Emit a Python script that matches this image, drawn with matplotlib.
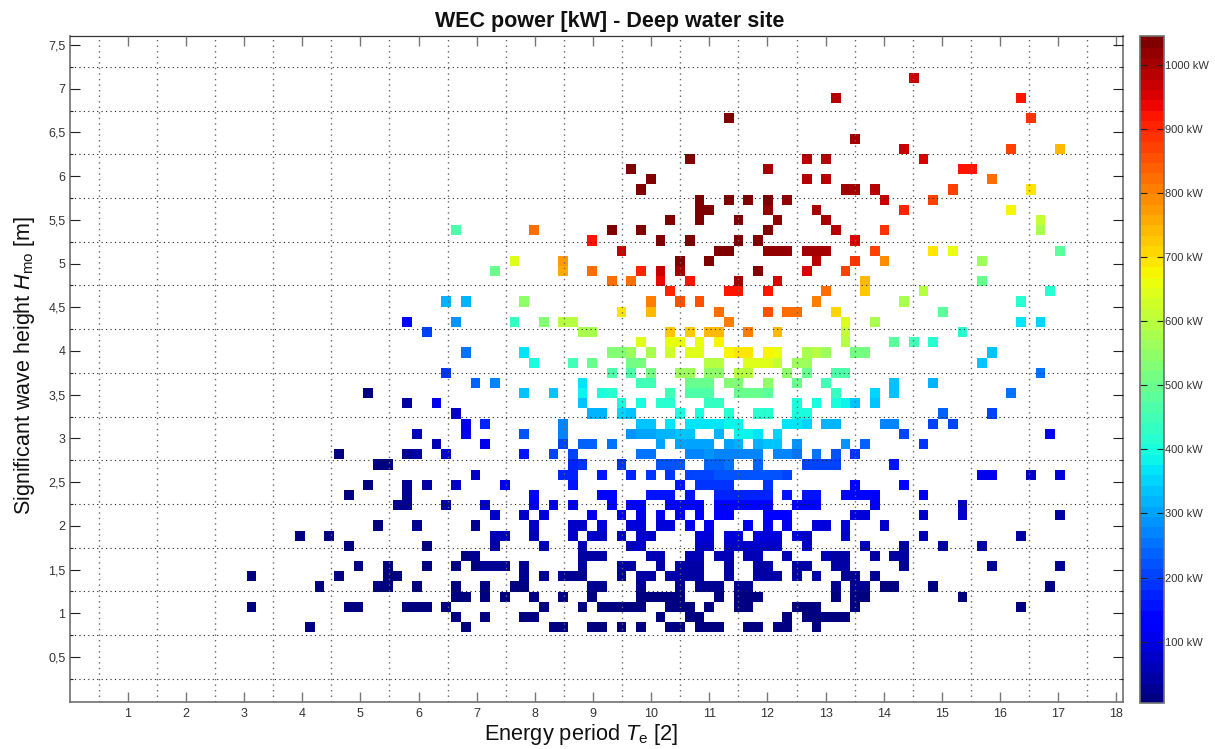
import numpy as np
import matplotlib
matplotlib.use("Agg")
import matplotlib.pyplot as plt
from matplotlib.ticker import FixedLocator, FixedFormatter, FuncFormatter

plt.rcParams['font.family'] = ['Liberation Sans', 'DejaVu Sans']
plt.rcParams['mathtext.fontset'] = 'custom'
plt.rcParams['mathtext.rm'] = 'Liberation Sans'
plt.rcParams['mathtext.it'] = 'Liberation Sans:italic'

# sea-state bins: energy period of bin 0 and bin width, wave height of bin 0 and bin width
te_first, te_width = 3.125, 0.16753
hs_first, hs_height = 0.8395, 0.11644

# WEC power [kW], one dict per wave-height bin: {period bin: power}
r00 = {6:3,22:6,31:8,32:8,35:8,36:8,38:9,40:9,43:9,44:9,46:10,47:10,48:10,51:10,52:10,54:10,55:10,58:9}
r01 = {21:7,24:8,28:9,29:10,42:12,45:12,46:12,55:12,57:12,58:12,59:12,60:11,61:11}
r02 = {0:3,10:6,11:6,16:7,17:7,18:8,20:9,30:12,34:13,36:13,37:14,38:14,39:14,40:14,43:15,44:15,45:15,47:16,50:16,51:16,56:15,57:14,58:14,62:13,79:7}
r03 = {21:11,22:11,24:12,26:13,29:14,32:16,35:17,40:18,41:18,42:18,43:19,44:19,48:20,50:20,51:20,52:20,60:17,62:16,63:16,73:11}
r04 = {7:6,13:11,14:11,17:12,21:16,24:17,27:19,28:20,35:23,36:23,40:25,44:27,46:27,47:27,48:28,50:28,51:28,60:24,62:23,63:23,65:20,66:20,70:17,82:12}
r05 = {0:2,9:4,14:6,15:7,28:30,30:32,32:33,33:33,34:34,38:36,40:38,41:38,43:39,44:40,45:40,46:41,49:42,52:42,53:41,54:40,56:40,58:38,61:35,62:34,64:32}
r06 = {11:5,14:8,18:12,21:18,23:20,24:22,25:24,26:25,28:37,34:41,38:45,39:46,42:47,44:49,45:50,46:50,49:52,52:52,53:51,56:49,57:48,60:44,61:43,67:33,76:25,83:22}
r07 = {22:20,23:22,34:50,35:51,36:52,41:56,42:57,45:60,46:60,48:61,49:62,51:62,52:62,55:59,59:54,60:53,61:52,64:46,66:43,67:42}
r08 = {10:8,18:18,25:40,30:58,34:64,39:69,40:70,46:75,47:76,49:78,50:78,51:78,52:78,53:77,54:77,57:72,63:60,67:53,71:46,75:42}
r09 = {5:8,8:9,25:60,26:61,29:66,33:73,35:76,36:77,38:80,40:83,41:84,46:89,47:90,49:92,50:92,52:91,53:91,54:90,56:87,57:86,61:76,69:60,79:42}
r10 = {13:15,17:25,23:35,29:75,33:82,34:85,36:88,39:93,40:96,42:99,43:100,45:104,47:106,51:108,53:106,55:103,58:97,59:95,61:88,65:79}
r11 = {25:80,28:86,30:93,35:104,38:110,40:113,42:116,44:118,46:121,48:123,49:124,53:122,54:120,55:119,62:100,63:98,69:82,73:72,83:52}
r12 = {15:22,16:25,20:50,24:75,29:110,31:115,33:118,37:128,39:133,40:135,43:140,44:143,45:145,46:146,48:150,49:150,50:150,51:150,52:150,53:148,56:140,57:138,58:136,64:110,73:80}
r13 = {10:12,16:32,29:125,36:145,37:148,41:158,42:160,43:162,45:165,48:168,49:170,50:170,51:170,52:170,53:168,55:163,57:160,58:158,61:145,62:140,63:136,64:132,69:105}
r14 = {12:18,16:35,18:45,21:75,26:115,33:155,44:165,46:190,47:190,48:195,49:195,53:190,62:150,67:125}
r15 = {23:75,32:170,33:170,36:165,39:175,41:190,43:190,45:210,46:215,47:215,48:225,49:230,50:230,51:230,52:230,53:225,54:225,55:215,75:105,76:105,80:85,83:90}
r16 = {13:15,14:20,33:175,34:190,38:190,42:225,43:225,44:225,47:245,48:245,49:255,52:245,57:210,58:210,59:200,60:200,66:155}
r17 = {9:5,16:28,17:42,20:70,28:165,31:215,33:200,40:260,41:260,45:265,46:275,47:285,48:265,49:265,50:275,51:275,52:275,54:265,55:265,56:255,58:250,60:225,62:185}
r18 = {19:62,24:115,32:205,34:235,35:245,37:255,42:300,44:300,45:310,46:310,47:310,49:310,50:325,52:325,53:335,54:335,56:295,61:285,63:245,69:190}
r19 = {17:65,22:115,28:225,32:275,39:295,40:300,41:300,42:315,43:325,44:335,45:340,48:315,50:385,51:380,52:375,54:350,67:210,82:110}
r20 = {22:110,24:170,32:275,40:330,41:330,43:370,45:365,46:365,47:370,48:375,49:385,50:385,55:370,56:370,57:350,59:320,60:320,65:280,66:265,70:215,72:210}
r21 = {21:80,35:320,36:320,38:360,39:340,44:405,46:395,49:420,52:420,53:415,56:395,57:395,71:235,76:200}
r22 = {16:50,19:110,34:335,38:395,40:395,42:415,43:415,47:430,48:430,56:405,58:395,60:395,61:385,62:345,64:330}
r23 = {12:10,28:330,31:345,34:380,36:400,37:420,43:445,45:470,46:470,47:470,50:500,51:500,52:500,53:490,60:430,64:350,66:345,78:255}
r24 = {23:245,25:275,34:375,40:450,41:450,45:505,46:505,47:505,49:540,50:540,53:545,56:500,59:450,66:345,70:320}
r25 = {20:195,37:465,39:465,41:515,44:560,45:560,47:545,48:545,50:600,51:600,55:555,57:495,60:465,61:460,81:250}
r26 = {29:395,33:450,35:495,39:515,40:515,47:590,48:590,51:650,52:640,53:640,54:615,56:565,57:565,75:330}
r27 = {22:260,28:375,37:530,38:540,39:560,41:585,43:625,45:650,46:650,49:675,50:695,51:695,53:680,54:665,57:585,58:590,59:570,62:515,63:515,76:330}
r28 = {40:640,43:670,44:670,46:670,48:680,61:590,66:490,68:445,70:420}
r29 = {18:212,34:585,35:585,43:730,45:735,47:745,48:745,51:805,54:745,61:620,73:420}
r30 = {16:125,21:290,27:430,30:530,32:590,33:590,49:810,61:650,64:585,79:375,81:350}
r31 = {38:700,41:750,48:830,53:855,55:830,56:830,60:710,71:490}
r32 = {20:320,22:325,28:555,41:810,44:850,46:855,58:810,67:585,79:420}
r33 = {43:905,49:920,50:920,53:915,59:830,63:725,69:590,82:420}
r34 = {37:830,39:830,42:935,45:930,50:1005,54:960,63:745,75:500}
r35 = {25:500,32:755,35:830,40:900,42:975,44:1005,52:1030,57:950,61:880}
r36 = {27:640,32:770,44:1040,47:1040,58:985,62:885,65:790,75:565}
r37 = {38:965,48:1030,49:1030,53:1015,54:1015,55:1015,57:1000,58:1000,59:1000,64:880,70:700,72:670,83:490}
r38 = {35:930,42:1040,45:1040,50:1040,52:1035,62:960}
r39 = {21:470,29:830,37:1035,40:1035,53:1030,60:985,65:895,81:580}
r40 = {43:1040,46:1035,50:1040,54:1025,59:1000,81:610}
r41 = {46:1035,47:1035,53:1025,58:1000,67:905,78:680}
r42 = {46:1035,49:1040,51:1040,53:1040,55:1025,65:970,70:880}
r43 = {40:1040,61:1000,62:1000,64:980,72:880,80:700}
r44 = {41:1040,57:985,59:985,76:830}
r45 = {39:1040,53:1000,73:920,74:920}
r46 = {45:1045,57:985,59:985,69:950}
r47 = {67:970,78:880,83:745}
r48 = {62:1000}
r50 = {49:1045,80:895}
r52 = {60:985,79:930}
r54 = {68:965}

power_rows = [r00,r01,r02,r03,r04,r05,r06,r07,r08,r09,r10,r11,r12,r13,r14,r15,r16,r17,r18,r19,
              r20,r21,r22,r23,r24,r25,r26,r27,r28,r29,r30,r31,r32,r33,r34,r35,r36,r37,r38,r39,
              r40,r41,r42,r43,r44,r45,r46,r47,r48,{},r50,{},r52,{},r54]

x_ticks = list(range(1, 19))
y_ticks = [0.5, 1, 1.5, 2, 2.5, 3, 3.5, 4, 4.5, 5, 5.5, 6, 6.5, 7, 7.5]
y_tick_labels = ['0,5', '1', '1,5', '2', '2,5', '3', '3,5', '4', '4,5', '5', '5,5', '6', '6,5', '7', '7,5']
cbar_ticks = [100, 200, 300, 400, 500, 600, 700, 800, 900, 1000]

n_te = 84
grid = np.full((len(power_rows), n_te), np.nan)
for i, row in enumerate(power_rows):
    for j, kw in row.items():
        grid[i, j] = kw
te_edges = te_first - te_width / 2 + te_width * np.arange(n_te + 1)
hs_edges = hs_first - hs_height / 2 + hs_height * np.arange(len(power_rows) + 1)

W, H = 1215, 749
fig = plt.figure(figsize=(W / 100, H / 100), dpi=100, facecolor='white')
ax = fig.add_axes([69.7 / W, 1 - 702 / H, (1122.7 - 69.7) / W, (702 - 36) / H])
cmap = plt.get_cmap('jet', 64)
mesh = ax.pcolormesh(te_edges, hs_edges, np.ma.masked_invalid(grid), cmap=cmap, vmin=5, vmax=1045,
                     edgecolors='none', antialiased=False, zorder=1)
ax.set_xlim(0, 18.11)
ax.set_ylim(-0.015, 7.603)
ax.set_axisbelow(False)

ax.xaxis.set_major_locator(FixedLocator(x_ticks))
ax.xaxis.set_major_formatter(FixedFormatter([str(v) for v in x_ticks]))
ax.yaxis.set_major_locator(FixedLocator(y_ticks))
ax.yaxis.set_major_formatter(FixedFormatter(y_tick_labels))
ax.xaxis.set_minor_locator(FixedLocator(np.arange(0.5, 18.1, 1.0)))
ax.yaxis.set_minor_locator(FixedLocator(np.arange(0.25, 7.6, 0.5)))
ax.grid(which='minor', axis='x', linestyle=(0, (1, 3)), linewidth=1.0, color='#666666')
ax.grid(which='minor', axis='y', linestyle=(0, (1, 3)), linewidth=0.8, color='#222222')
ax.grid(which='major', visible=False)
ax.tick_params(axis='x', which='major', direction='in', length=7.2, width=1.0, top=True, color='#777777',
               labelsize=9, labelcolor='#333333', pad=4)
ax.tick_params(axis='y', which='major', direction='in', length=7.2, width=0.8, right=True, color='#222222',
               labelsize=9, labelcolor='#333333', pad=3)
ax.tick_params(which='minor', direction='in', length=2.5, width=0.8, top=False, bottom=False, left=True, right=True,
               color='#222222')
for name, s in ax.spines.items():
    s.set_color('#333333' if name == 'top' else '#707070')
    s.set_linewidth(0.9 if name == 'top' else 1.2)

ax.set_title('WEC power [kW] - Deep water site', fontsize=15.5, fontweight='bold', color='#111111', pad=6.5, x=0.513)
ax.set_xlabel(r'Energy period $\mathit{T}_{\mathrm{e}}$ [2]', fontsize=15.7, labelpad=2, color='#111111', x=0.486)
ax.set_ylabel(r'Significant wave height $\mathit{H}_{\mathrm{mo}}$ [m]', fontsize=15.5, labelpad=8, color='#111111', y=0.505)

cax = fig.add_axes([1139.5 / W, 1 - 702.5 / H, 24 / W, (702.5 - 36) / H])
cb = fig.colorbar(mesh, cax=cax, ticks=cbar_ticks, format=FuncFormatter(lambda v, p: f'{int(v)} kW'))
cb.solids.set_edgecolor('face')
cb.ax.tick_params(direction='in', length=5, width=0.8, left=True, right=True, color='#222222',
                  labelsize=8, labelcolor='#333333', pad=1)
cb.outline.set_edgecolor('#707070')
cb.outline.set_linewidth(1.2)

fig.savefig('out.png', dpi=100)
